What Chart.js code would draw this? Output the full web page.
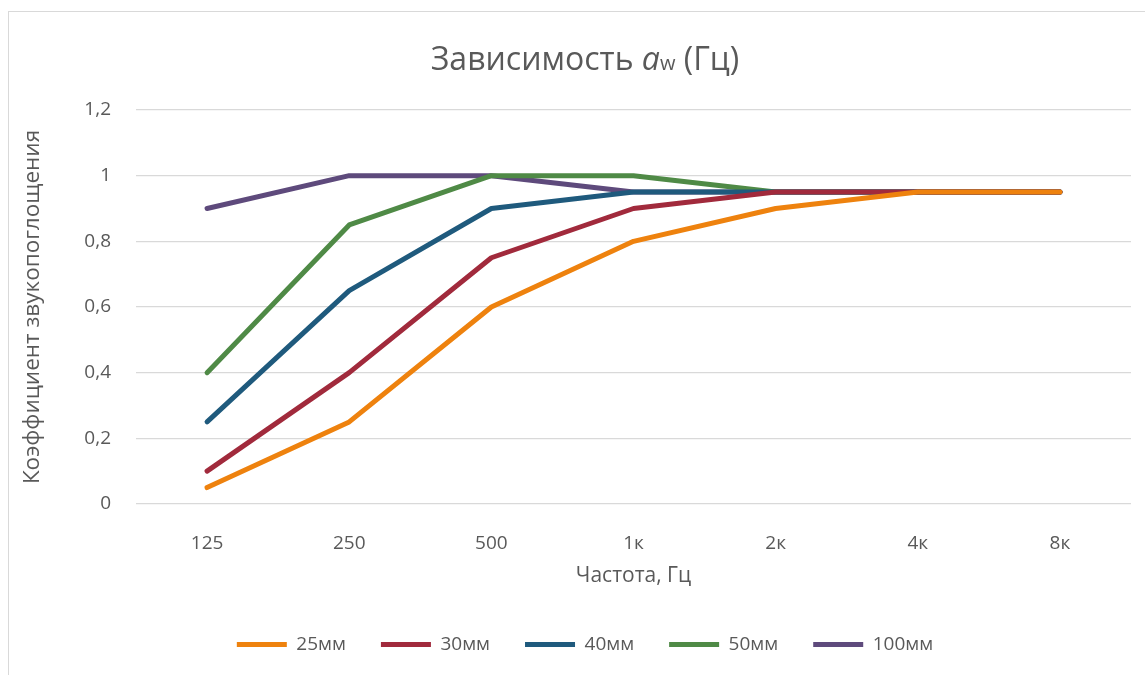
<!DOCTYPE html>
<html>
<head>
<meta charset="utf-8">
<script src="https://cdn.jsdelivr.net/npm/chart.js@4/dist/chart.umd.min.js"></script>
<style>
  html, body { margin: 0; padding: 0; background: #fff; overflow: hidden; }
  #frame {
    position: absolute; left: 8px; top: 11px;
    width: 1152px; height: 676px;
    border: 1px solid #d9d9d9;
  }
  #chart { display: block; }
</style>
</head>
<body>
<div id="frame"><canvas id="chart" width="1152" height="676"></canvas></div>
<script>
// frequency bands and absorption coefficients per panel thickness
const frequencies = ['125', '250', '500', '1к', '2к', '4к', '8к'];
const yTickLabels = ['0', '0,2', '0,4', '0,6', '0,8', '1', '1,2'];

const seriesNames = ['25мм', '30мм', '40мм', '50мм', '100мм'];
const seriesColors = ['#EE820E', '#A12A3C', '#1F5A7D', '#4F8A46', '#5E4A7C'];

const alpha25 = [0.05, 0.25, 0.6, 0.8, 0.9, 0.95, 0.95];
const alpha30 = [0.1, 0.4, 0.75, 0.9, 0.95, 0.95, 0.95];
const alpha40 = [0.25, 0.65, 0.9, 0.95, 0.95, 0.95, 0.95];
const alpha50 = [0.4, 0.85, 1, 1, 0.95, 0.95, 0.95];
const alpha100 = [0.9, 1, 1, 0.95, 0.95, 0.95, 0.95];

const seriesValues = [alpha25, alpha30, alpha40, alpha50, alpha100];

const textColor = '#595959';
const fontFamily = "'Open Sans', 'Noto Sans', sans-serif";

// Title with italic "a" and small "w" drawn as separate runs
const richTitle = {
  id: 'richTitle',
  afterDraw(chart) {
    const ctx = chart.ctx;
    const runs = [
      { text: 'Зависимость ', font: '32px ' + fontFamily },
      { text: 'a', font: 'italic 32px ' + fontFamily },
      { text: 'w', font: '20px ' + fontFamily },
      { text: ' (Гц)', font: '32px ' + fontFamily }
    ];
    ctx.save();
    ctx.fillStyle = textColor;
    ctx.textBaseline = 'alphabetic';
    let total = 0;
    runs.forEach(r => { ctx.font = r.font; r.w = ctx.measureText(r.text).width; total += r.w; });
    let x = chart.width / 2 - total / 2;
    const y = 58;
    runs.forEach(r => { ctx.font = r.font; ctx.fillText(r.text, x, y); x += r.w; });
    ctx.restore();
  }
};

const datasets = seriesNames.map((name, i) => ({
  label: name,
  data: seriesValues[i],
  borderColor: seriesColors[i],
  backgroundColor: seriesColors[i],
  borderWidth: 5,
  borderCapStyle: 'round',
  borderJoinStyle: 'round',
  pointRadius: 0,
  pointHoverRadius: 0,
  tension: 0
}));

new Chart(document.getElementById('chart'), {
  type: 'line',
  data: { labels: frequencies, datasets: datasets },
  plugins: [richTitle],
  options: {
    responsive: false,
    animation: false,
    layout: { padding: { top: 98, right: 0, bottom: 24, left: 0 } },
    plugins: {
      title: { display: false },
      tooltip: { enabled: false },
      legend: {
        position: 'bottom',
        labels: {
          color: textColor,
          font: { family: fontFamily, size: 19 },
          boxWidth: 50,
          boxHeight: 5,
          useBorderRadius: true,
          borderRadius: 2.5,
          padding: 35,
          generateLabels(chart) {
            return chart.data.datasets.map((ds, i) => ({
              text: ds.label,
              fillStyle: ds.borderColor,
              strokeStyle: ds.borderColor,
              lineWidth: 0,
              fontColor: textColor,
              datasetIndex: i,
              hidden: false
            }));
          }
        }
      }
    },
    scales: {
      x: {
        offset: true,
        grid: { display: false },
        border: { display: false },
        ticks: { color: textColor, font: { family: fontFamily, size: 19 }, padding: 20 },
        title: {
          display: true,
          text: 'Частота, Гц',
          color: textColor,
          font: { family: fontFamily, size: 21 },
          padding: { top: 0, bottom: 11.4 }
        },
        afterFit(scale) { scale.height = 96; }
      },
      y: {
        min: 0,
        max: 1.2,
        grid: { color: '#d9d9d9', lineWidth: 1.3, drawTicks: false },
        border: { display: false },
        ticks: {
          stepSize: 0.2,
          padding: 25,
          color: textColor,
          font: { family: fontFamily, size: 19 },
          callback: (v, i) => yTickLabels[i]
        },
        title: {
          display: true,
          text: 'Коэффициент звукопоглощения',
          color: textColor,
          font: { family: fontFamily, size: 22.5 },
          padding: { top: 10.5, bottom: 0 }
        },
        afterFit(scale) { scale.width = 127; }
      },
      // empty right-hand margin so the legend stays centred on the whole frame
      yRight: {
        position: 'right',
        min: 0,
        max: 1.2,
        grid: { display: false },
        border: { display: false },
        ticks: { display: false },
        afterFit(scale) { scale.width = 30; }
      }
    }
  }
});
</script>
</body>
</html>
